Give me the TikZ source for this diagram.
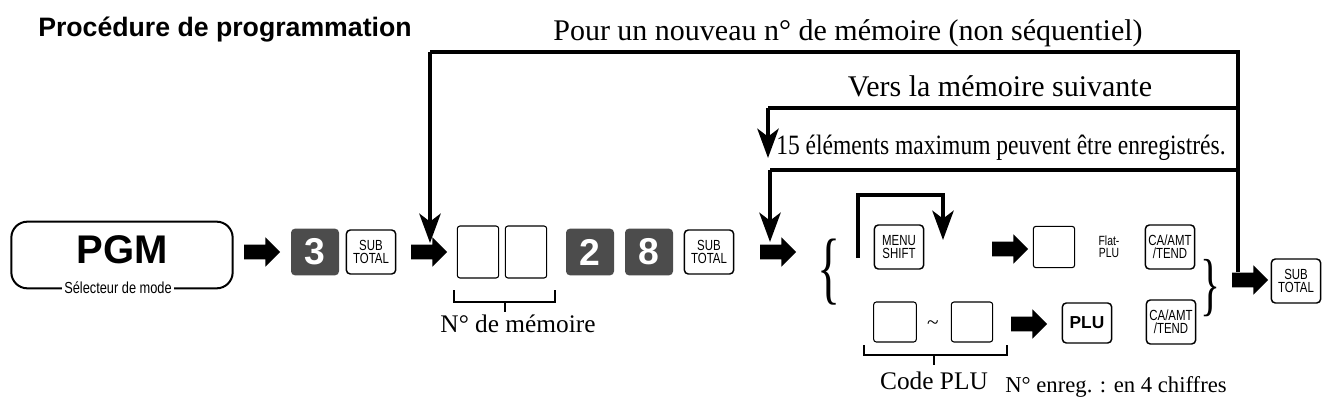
\documentclass[tikz,border=0pt]{standalone}
\usepackage{fontspec}
\setmainfont{Liberation Serif}
\setsansfont{Liberation Sans}
\usetikzlibrary{arrows.meta}
\newcommand{\kt}[1]{\scalebox{0.78}[1]{#1}}
\begin{document}
\begin{tikzpicture}[x=0.75pt,y=-0.75pt,
  key/.style={draw,line width=1.1pt,rounded corners=3pt,minimum width=37pt,minimum height=33pt,inner sep=0pt,font=\sffamily\fontsize{11}{10}\selectfont,align=center},
  dkey/.style={fill=black!70,rounded corners=3pt,minimum width=36pt,minimum height=35pt,inner sep=0pt,text=white,font=\sffamily\bfseries\fontsize{28}{28}\selectfont},
  ebox/.style={draw,line width=0.8pt,rounded corners=2pt,minimum width=31pt,minimum height=39pt,inner sep=0pt},
  barrow/.style={minimum width=27pt,minimum height=22pt,inner sep=0pt,
    path picture={\fill[black] ([yshift=-5.5pt]path picture bounding box.west) -- ([xshift=-11pt,yshift=-5.5pt]path picture bounding box.east) -- ([xshift=-11pt]path picture bounding box.south east) -- (path picture bounding box.east) -- ([xshift=-11pt]path picture bounding box.north east) -- ([xshift=-11pt,yshift=5.5pt]path picture bounding box.east) -- ([yshift=5.5pt]path picture bounding box.west) -- cycle;}},
  flow/.style={line width=3pt,-{Stealth[length=22pt,width=16pt,inset=6pt]}},
  line/.style={line width=3pt},
  br/.style={line width=1.6pt},
  lbl/.style={font=\fontsize{22.5}{22.5}\selectfont,inner sep=0pt}
]
\useasboundingbox (0,0) rectangle (1329,407);
\node[font=\sffamily\bfseries\fontsize{20}{20}\selectfont,anchor=west,inner sep=0pt] (title) at (38,30) {Procédure de programmation};
\node[lbl] (tnew) at (848,33) {Pour un nouveau n° de mémoire (non séquentiel)};
\node[lbl] (tnext) at (1000,86) {Vers la mémoire suivante};
\node[lbl,anchor=west,font=\fontsize{21}{21}\selectfont] (t15) at (776,148) {\scalebox{0.84}[1]{15 éléments maximum peuvent être enregistrés.}};

% PGM
\node[draw,line width=1.5pt,rounded corners=12pt,minimum width=166pt,minimum height=50pt] (pgm) at (122,255) {};
\node[font=\sffamily\bfseries\fontsize{30}{30}\selectfont] (pgmt) at (122,250) {PGM};
\node[fill=white,font=\sffamily\fontsize{12}{12}\selectfont,inner sep=2pt] (sel) at (118,288) {\scalebox{0.8}[1]{Sélecteur de mode}};

\node[barrow] (a1) at (262,252) {};
\node[dkey] (k3) at (315,252) {3};
\node[key] (st1) at (371,252) {\kt{SUB}\\\kt{TOTAL}};
\node[barrow] (a2) at (429,252) {};
\node[ebox] (m1) at (478,252) {};
\node[ebox] (m2) at (526,252) {};
\node[dkey] (k2) at (590,252) {2};
\node[dkey] (k8) at (649,252) {8};
\node[key] (st2) at (709,252) {\kt{SUB}\\\kt{TOTAL}};
\node[barrow] (a3) at (778,252) {};
\node (lb) at (829,272) {\scalebox{0.6}[1]{\fontsize{60}{60}\selectfont\{}};

\draw[br] (454,290) -- (454,302) -- (555,302) -- (555,290);
\coordinate (bm) at (505,302);
\node[font=\fontsize{19}{19}\selectfont] (nmem) at (518,324) {N° de mémoire};
\draw[br] (bm) -- (505,312);

% upper row
\node[key] (ms) at (899,247) {\kt{MENU}\\\kt{SHIFT}};
\coordinate (ls) at (858,258);
\coordinate (le) at (943,240);
\draw[flow] (ls) -- (858,195) -- (943,195) -- (le);
\node[barrow] (a4) at (1010,249) {};
\node[ebox,minimum width=31pt,minimum height=31pt] (fb) at (1054,247) {};
\node[font=\sffamily\fontsize{10}{9}\selectfont,align=center,inner sep=0pt] (flat) at (1109,247) {\kt{Flat-}\\\kt{PLU}};
\node[key] (ca1) at (1170,247) {\kt{CA/AMT}\\\kt{/TEND}};

% lower row
\node[ebox,minimum width=32pt,minimum height=30pt] (c1) at (895,322) {};
\node[font=\fontsize{16}{16}\selectfont] (tl) at (933,325) {\textasciitilde};
\node[ebox,minimum width=31pt,minimum height=30pt] (c2) at (972,322) {};
\node[barrow] (a5) at (1029,324) {};
\node[key,font=\sffamily\bfseries\fontsize{13}{13}\selectfont,minimum height=30pt] (plu) at (1087,323) {PLU};
\node[key] (ca2) at (1171,322) {\kt{CA/AMT}\\\kt{/TEND}};
\draw[br] (864,345) -- (864,355) -- (1007,355) -- (1007,345);
\coordinate (bc) at (934,355);
\draw[br] (bc) -- (934,365);
\node[font=\fontsize{19}{19}\selectfont] (code) at (934,381) {Code PLU};
\node[font=\fontsize{17}{17}\selectfont] (enr) at (1116,387) {N° enreg. : en 4 chiffres};

\node (rb) at (1210,288) {\scalebox{0.6}[1]{\fontsize{52}{52}\selectfont\}}};
\node[barrow] (a6) at (1250,280) {};
\node[key] (st3) at (1296,281) {\kt{SUB}\\\kt{TOTAL}};

% loops
\coordinate (t1) at (430,243);
\coordinate (t2) at (768,158);
\coordinate (t3) at (770,242);
\coordinate (r1) at (1238,52);
\coordinate (r2) at (1238,108);
\coordinate (r3) at (1238,170);
\coordinate (rend) at (1238,272);
\draw[line] (rend) -- (r1) -- (430,52);
\draw[flow] (430,52) -- (t1);
\draw[line] (r2) -- (768,108);
\draw[flow] (768,108) -- (t2);
\draw[line] (r3) -- (770,170);
\draw[flow] (770,170) -- (t3);
\end{tikzpicture}
\end{document}
